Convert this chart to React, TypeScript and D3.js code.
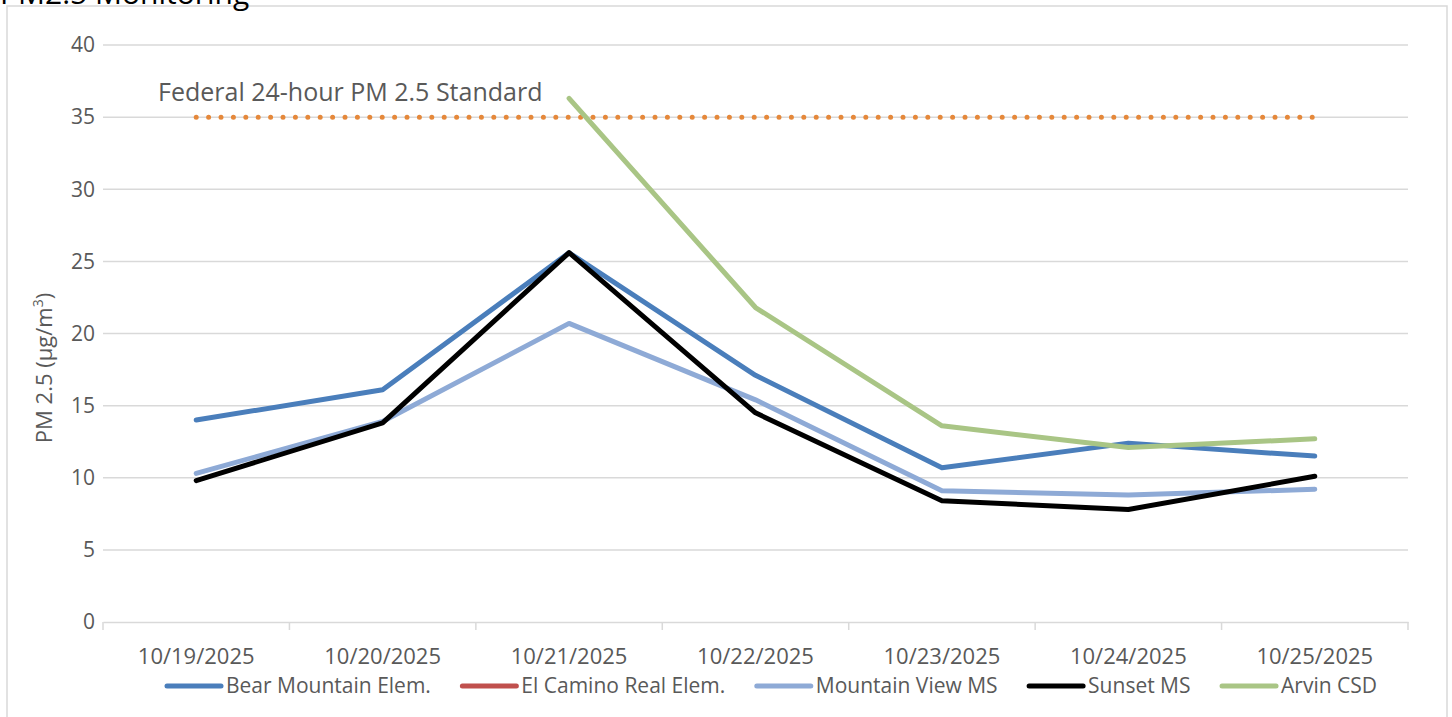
import React, { useEffect, useRef } from 'react';
import * as d3 from 'd3';

const dates = ['10/19/2025', '10/20/2025', '10/21/2025', '10/22/2025', '10/23/2025', '10/24/2025', '10/25/2025'];
const bearMountain = [14.0, 16.1, 25.6, 17.1, 10.7, 12.4, 11.5];
const elCamino: (number | null)[] = [null, null, null, null, null, null, null];
const mountainView = [10.3, 13.9, 20.7, 15.4, 9.1, 8.8, 9.2];
const sunset = [9.8, 13.8, 25.6, 14.5, 8.4, 7.8, 10.1];
const arvin: (number | null)[] = [null, null, 36.3, 21.8, 13.6, 12.1, 12.7];
const standard = [35, 35, 35, 35, 35, 35, 35];
const yTicks = [0, 5, 10, 15, 20, 25, 30, 35, 40];

const series = [
  { name: 'Bear Mountain Elem.', values: bearMountain, color: '#4a7ebb' },
  { name: 'El Camino Real Elem.', values: elCamino, color: '#c0504d' },
  { name: 'Mountain View MS', values: mountainView, color: '#8eaad6' },
  { name: 'Sunset MS', values: sunset, color: '#000000' },
  { name: 'Arvin CSD', values: arvin, color: '#a9c585' },
];

const FONT = "'Open Sans', sans-serif";
const GREY = '#595959';

function App() {
  const ref = useRef<SVGSVGElement>(null);

  useEffect(() => {
    const width = 1452;
    const height = 717;
    const margin = { top: 45, right: 44, bottom: 95, left: 103 };
    const svg = d3.select(ref.current);
    svg.selectAll('*').remove();

    // outer chart frame
    svg.append('rect')
      .attr('x', 7).attr('y', 6)
      .attr('width', 1440).attr('height', 730)
      .attr('fill', 'white').attr('stroke', '#d9d9d9').attr('stroke-width', 1.5);

    // title, mostly cut off at the top
    svg.append('text')
      .attr('x', 0).attr('y', 4)
      .attr('font-family', FONT).attr('font-size', 30)
      .attr('fill', '#000')
      .text('PM2.5 Monitoring');

    const x = d3.scaleBand().domain(dates).range([margin.left, width - margin.right]);
    const y = d3.scaleLinear().domain([0, 40]).range([height - margin.bottom, margin.top]);
    const cx = (d: string) => (x(d) as number) + x.bandwidth() / 2;

    // gridlines
    svg.append('g')
      .selectAll('line')
      .data(yTicks.filter(t => t > 0))
      .join('line')
      .attr('x1', margin.left).attr('x2', width - margin.right)
      .attr('y1', d => y(d)).attr('y2', d => y(d))
      .attr('stroke', '#d9d9d9').attr('stroke-width', 1.5);

    // y tick labels
    svg.append('g')
      .selectAll('text')
      .data(yTicks)
      .join('text')
      .attr('x', 95).attr('y', d => y(d))
      .attr('dy', '0.35em')
      .attr('text-anchor', 'end')
      .attr('font-family', FONT).attr('font-size', 21)
      .attr('fill', GREY)
      .text(d => d);

    // x axis
    const xAxis = svg.append('g')
      .attr('transform', 'translate(0,' + y(0) + ')')
      .call(d3.axisBottom(x).tickSize(0).tickPadding(0).tickFormat(() => ''));
    xAxis.select('.domain').attr('stroke', '#d9d9d9').attr('stroke-width', 1.5);
    xAxis.selectAll('.tick').remove();
    const bounds = dates.map(d => x(d) as number).concat([width - margin.right]);
    xAxis.selectAll('line.bound')
      .data(bounds)
      .join('line')
      .attr('class', 'bound')
      .attr('x1', d => d).attr('x2', d => d)
      .attr('y1', 0).attr('y2', 8)
      .attr('stroke', '#d9d9d9').attr('stroke-width', 1.5);
    svg.append('g')
      .selectAll('text')
      .data(dates)
      .join('text')
      .attr('x', d => cx(d)).attr('y', 664)
      .attr('text-anchor', 'middle')
      .attr('font-family', FONT).attr('font-size', 22)
      .attr('fill', GREY)
      .text(d => d);

    // y axis label
    svg.append('text')
      .attr('transform', 'translate(44,368) rotate(-90)')
      .attr('text-anchor', 'middle')
      .attr('dy', '0.35em')
      .attr('font-family', FONT).attr('font-size', 22)
      .attr('fill', GREY)
      .call(t => {
        t.append('tspan').text('PM 2.5 (µg/m');
        t.append('tspan').attr('font-size', 14).attr('dy', '-0.6em').text('3');
        t.append('tspan').attr('dy', '0.4em').text(')');
      });

    // federal standard
    const line = d3.line<number | null>()
      .defined(d => d != null)
      .x((_, i) => cx(dates[i]))
      .y(d => y(d as number));

    svg.append('path')
      .attr('d', line(standard))
      .attr('fill', 'none')
      .attr('stroke', '#e5883a')
      .attr('stroke-width', 5)
      .attr('stroke-linecap', 'round')
      .attr('stroke-dasharray', '0 12.4');

    svg.append('text')
      .attr('x', 158).attr('y', 101)
      .attr('font-family', FONT).attr('font-size', 25)
      .attr('fill', GREY)
      .text('Federal 24-hour PM 2.5 Standard');

    // series
    svg.append('g')
      .selectAll('path')
      .data(series)
      .join('path')
      .attr('d', s => line(s.values))
      .attr('fill', 'none')
      .attr('stroke', s => s.color)
      .attr('stroke-width', 5)
      .attr('stroke-linejoin', 'round')
      .attr('stroke-linecap', 'round');

    // legend
    const legend = svg.append('g').attr('transform', 'translate(0,686)');
    const items = legend.selectAll('g')
      .data(series)
      .join('g');
    items.append('line')
      .attr('x1', 0).attr('x2', 54)
      .attr('stroke', s => s.color)
      .attr('stroke-width', 5)
      .attr('stroke-linecap', 'round');
    items.append('text')
      .attr('x', 59).attr('dy', '0.35em')
      .attr('font-family', FONT).attr('font-size', 21)
      .attr('fill', GREY)
      .text(s => s.name);
    const widths: number[] = [];
    items.each(function () {
      const t = d3.select(this).select('text').node() as SVGTextElement;
      widths.push(59 + t.getComputedTextLength());
    });
    const start = 167;
    const end = 1377;
    const gap = (end - start - d3.sum(widths)) / (widths.length - 1);
    let pos = start;
    items.attr('transform', (_, i) => {
      const p = pos;
      pos += widths[i] + gap;
      return 'translate(' + p + ',0)';
    });
  }, []);

  return (
    <svg ref={ref} width={1452} height={717} style={{ position: 'absolute', left: 0, top: 0 }} />
  );
}

export default App;
